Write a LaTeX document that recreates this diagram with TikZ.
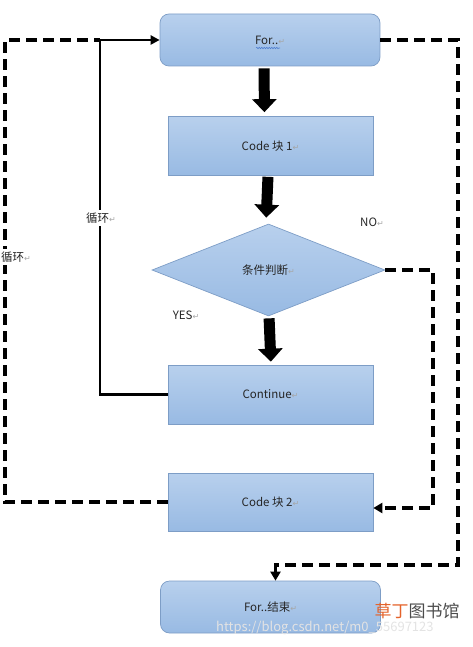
\documentclass[tikz,border=0pt]{standalone}
\usepackage{fontspec}
\setmainfont{Noto Sans CJK SC}
\newfontfamily\symf{DejaVu Sans}
\usetikzlibrary{shapes.geometric,arrows.meta,decorations.pathmorphing}
\definecolor{boxtop}{HTML}{B8D0ED}
\definecolor{boxbot}{HTML}{98BAE3}
\definecolor{boxline}{HTML}{7D9DC6}
\definecolor{wavy}{HTML}{4F7FD0}
\definecolor{wmorange}{HTML}{E4632B}
\newcommand{\retmark}{{\symf\fontsize{8}{8}\selectfont\color{gray!70}↵}}
\begin{document}
\begin{tikzpicture}[x=1pt,y=-1pt,font=\fontsize{11.5}{13}\selectfont,
  box/.style={draw=boxline,line width=0.7pt,top color=boxtop,bottom color=boxbot,
    minimum width=205pt,minimum height=59pt,inner sep=0pt,text=black!85},
  rbox/.style={box,rounded corners=9pt,minimum width=220pt,minimum height=52pt},
  cond/.style={diamond,draw=boxline,line width=0.7pt,top color=boxtop,bottom color=boxbot,
    minimum width=233pt,minimum height=92pt,inner sep=0pt,text=black!85},
  bigarrow/.style={line width=11pt,-{Triangle[width=24pt,length=13pt]}},
  loopline/.style={line width=2.6pt,-{Triangle[width=9pt,length=9pt]}},
  dashline/.style={line width=3.3pt,dash pattern=on 11pt off 6pt},
  dasharrow/.style={dashline,-{Triangle[width=10pt,length=9pt]}},
  lbl/.style={fill=white,inner sep=3pt,text=black!85}]
\useasboundingbox (0,0) rectangle (473,647);
% nodes
\node[rbox] (forbox) at (270,40) {For..\retmark};
\node[box] (code1) at (270.5,146) {Code 块 1\retmark};
\node[cond] (cond) at (268.5,270) {条件判断\retmark};
\node[box] (cont) at (270.5,394.5) {Continue\retmark};
\node[box,minimum height=58pt] (code2) at (270.5,502) {Code 块 2\retmark};
\node[rbox] (forend) at (270.5,607) {For..结束\retmark};
% spell-check wavy underline
\draw[wavy,line width=0.6pt,decorate,decoration={snake,amplitude=0.7pt,segment length=2.5pt}]
  (256,48) -- (280,48);
% thick arrows
\draw[bigarrow,shorten <=2pt,shorten >=4pt] ([xshift=-6pt]forbox.south) -- ([xshift=-6pt]code1.north);
\draw[bigarrow,shorten <=1pt,shorten >=6pt] ([xshift=-2.5pt]code1.south) -- ([xshift=-2.5pt]cond.north);
\draw[bigarrow,shorten <=2pt,shorten >=3pt] ([xshift=0.5pt]cond.south) -- ([xshift=0.5pt]cont.north);
% coordinates
\coordinate (lcorner) at (5,40);
\coordinate (ljoin) at (100,40);
\coordinate (rdown) at (458,565);
\coordinate (ncorner) at (433,508);
% solid loop
\draw[loopline] (cont.west) -- (100,394.5) |- (forbox.west);
\node[lbl] (loopA) at (101,218) {循环\retmark};
% dashed loops
\draw[dashline] (code2.west) -| (lcorner) -- (ljoin);
\node[lbl,anchor=west,inner xsep=1pt] (loopB) at (0,257) {循环\retmark};
\draw[dasharrow] (forbox.east) -| (rdown) -| ([xshift=5pt]forend.north);
\draw[dasharrow] (cond.east) -| (ncorner) -- ([yshift=-6pt]code2.east);
% labels
\node[text=black!85] (no) at (372,222) {NO\retmark};
\node[text=black!85] (yes) at (186,315) {YES\retmark};
% watermark
\node[text=gray!60!black,font=\fontsize{17}{18}\selectfont] (wm1) at (417,611) {{\color{wmorange}草丁}图书馆};
\node[text=gray!22,anchor=west,font=\fontsize{13}{14}\selectfont,inner sep=0pt] (wm2) at (216,628) {https://blog.csdn.net/m0\_55697123};
\end{tikzpicture}
\end{document}
